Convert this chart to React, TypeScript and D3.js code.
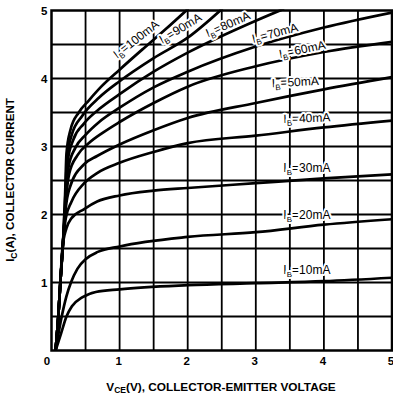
import React from 'react';
import * as d3 from 'd3';

const W = 393;
const H = 396;
const plot = { left: 51.5, right: 392, top: 10.5, bottom: 350.5 };

// axis ticks and grid
const vTicks = [1, 2, 3, 4, 5];
const iTicks = [1, 2, 3, 4, 5];
const vGrid = [0.5, 1, 1.5, 2, 2.5, 3, 3.5, 4, 4.5];
const iGrid = [0.5, 1, 1.5, 2, 2.5, 3, 3.5, 4, 4.5];

// Ic vs Vce, one list per base current
const ib10 = [[0.06, 0], [0.14, 0.25], [0.22, 0.5], [0.3, 0.65], [0.45, 0.78], [0.65, 0.86], [1, 0.9], [2, 0.96], [3, 0.99], [4, 1.02], [5, 1.07]];
const ib20 = [[0.06, 0], [0.15, 0.5], [0.22, 0.8], [0.29, 1.01], [0.38, 1.2], [0.51, 1.35], [0.68, 1.45], [1, 1.53], [2, 1.67], [3, 1.74], [4, 1.85], [5, 1.93]];
const ib30 = [[0.06, 0], [0.1, 0.5], [0.13, 1.0], [0.16, 1.5], [0.22, 1.8], [0.29, 1.94], [0.48, 2.08], [0.67, 2.19], [1, 2.28], [1.5, 2.35], [2, 2.39], [3, 2.46], [4, 2.53], [5, 2.59]];
const ib40 = [[0.06, 0], [0.1, 0.5], [0.13, 1], [0.17, 1.6], [0.21, 1.95], [0.29, 2.18], [0.48, 2.46], [0.67, 2.61], [1, 2.76], [1.5, 2.92], [2, 3.05], [3, 3.16], [4, 3.28], [5, 3.38]];
const ib50 = [[0.06, 0], [0.1, 0.5], [0.13, 1], [0.17, 1.6], [0.21, 2.1], [0.27, 2.4], [0.48, 2.74], [0.67, 2.86], [1, 3.03], [1.5, 3.24], [2, 3.42], [3, 3.64], [4, 3.84], [5, 4.02]];
const ib60 = [[0.06, 0], [0.1, 0.5], [0.13, 1], [0.17, 1.6], [0.21, 2.2], [0.26, 2.6], [0.38, 2.87], [0.55, 3.05], [0.75, 3.2], [1, 3.36], [1.5, 3.64], [2, 3.88], [3, 4.18], [4, 4.39], [5, 4.54]];
const ib70 = [[0.06, 0], [0.1, 0.5], [0.13, 1], [0.17, 1.6], [0.21, 2.2], [0.25, 2.7], [0.35, 2.98], [0.5, 3.17], [0.7, 3.36], [1, 3.57], [1.5, 3.87], [2, 4.1], [3, 4.47], [4, 4.75], [5, 4.97]];
const ib80 = [[0.06, 0], [0.1, 0.5], [0.13, 1], [0.17, 1.6], [0.21, 2.2], [0.24, 2.8], [0.32, 3.1], [0.47, 3.33], [0.7, 3.55], [1, 3.77], [1.5, 4.1], [2, 4.38], [3, 4.85], [3.4, 5.02]];
const ib90 = [[0.06, 0], [0.1, 0.5], [0.13, 1], [0.17, 1.6], [0.2, 2.2], [0.23, 2.85], [0.3, 3.18], [0.45, 3.45], [0.7, 3.72], [1, 3.96], [1.5, 4.3], [2, 4.6], [2.5, 5.02]];
const ib100 = [[0.06, 0], [0.1, 0.5], [0.13, 1], [0.17, 1.6], [0.2, 2.3], [0.22, 2.9], [0.28, 3.25], [0.4, 3.5], [0.55, 3.68], [0.73, 3.88], [1, 4.13], [1.36, 4.45], [1.67, 4.72], [2, 5.02]];

const curves = [ib10, ib20, ib30, ib40, ib50, ib60, ib70, ib80, ib90, ib100];
const ibNames = ['10mA', '20mA', '30mA', '40mA', '50mA', '60mA', '70mA', '80mA', '90mA', '100mA'];
// label anchor (V, A) and tilt
const labelV = [3.75, 3.75, 3.75, 3.75, 3.58, 3.68, 3.28, 2.59, 1.89, 1.24];
const labelI = [1.18, 1.99, 2.68, 3.42, 3.95, 4.43, 4.67, 4.8, 4.74, 4.58];
const labelTilt = [0, 0, 0, -2, -3, -12, -15, -24, -31, -38];

const x = d3.scaleLinear().domain([0, 5]).range([plot.left, plot.right]);
const y = d3.scaleLinear().domain([0, 5]).range([plot.bottom, plot.top]);

const line = d3.line<number[]>()
    .x((d) => x(d[0]))
    .y((d) => y(d[1]))
    .curve(d3.curveMonotoneX);

const font = '"Liberation Sans", Arial, Helvetica, sans-serif';

export default function App() {
    return (
        <div>
            <style>{'body{margin:0}'}</style>
            <svg width={W} height={H} style={{ display: 'block', background: '#fff' }} fontFamily={font}>
                <defs>
                    <clipPath id="plotclip">
                        <rect x={plot.left} y={plot.top - 1} width={plot.right - plot.left} height={plot.bottom - plot.top + 1} />
                    </clipPath>
                </defs>

                {/* grid */}
                <g stroke="#000" strokeWidth={1.8}>
                    {vGrid.map((v) => (
                        <line key={'v' + v} x1={x(v)} x2={x(v)} y1={plot.top} y2={plot.bottom} />
                    ))}
                    {iGrid.map((i) => (
                        <line key={'i' + i} x1={plot.left} x2={plot.right} y1={y(i)} y2={y(i)} />
                    ))}
                </g>
                <rect x={plot.left} y={plot.top} width={plot.right - plot.left} height={plot.bottom - plot.top}
                    fill="none" stroke="#000" strokeWidth={2.5} />

                {/* curves */}
                <g clipPath="url(#plotclip)" fill="none" stroke="#000" strokeWidth={2.7} strokeLinecap="round">
                    {curves.map((c, k) => (
                        <path key={k} d={line(c) || ''} />
                    ))}
                </g>

                {/* curve labels */}
                <g fontSize={12} fill="#000">
                    {ibNames.map((n, k) => (
                        <text key={n} textAnchor="middle" dy="0.35em"
                            transform={`translate(${x(labelV[k])},${y(labelI[k])}) rotate(${labelTilt[k]})`}
                            stroke="#fff" strokeWidth={4} paintOrder="stroke" strokeLinejoin="round">
                            I<tspan fontSize={8} dy={3}>B</tspan><tspan dy={-3}>={n}</tspan>
                        </text>
                    ))}
                </g>

                {/* tick labels */}
                <g fontSize={11.5} fontWeight="bold" fill="#000">
                    {iTicks.map((i) => (
                        <text key={'yt' + i} x={plot.left - 4} y={y(i)} dy="0.35em" textAnchor="end">{i}</text>
                    ))}
                    <text x={plot.left - 4.5} y={365} textAnchor="middle">0</text>
                    {vTicks.map((v) => (
                        <text key={'xt' + v} x={x(v) - 1} y={365} textAnchor="middle">{v}</text>
                    ))}
                </g>

                {/* axis titles */}
                <text transform="translate(14,180) rotate(-90)" textAnchor="middle" fontSize={11.6} fontWeight="bold">
                    I<tspan fontSize={8.5} dy={3}>C</tspan><tspan dy={-3}>(A), COLLECTOR CURRENT</tspan>
                </text>
                <text x={221} y={391} textAnchor="middle" fontSize={11.8} fontWeight="bold">
                    V<tspan fontSize={8.5} dy={2}>CE</tspan><tspan dy={-2}>(V), COLLECTOR-EMITTER VOLTAGE</tspan>
                </text>
            </svg>
        </div>
    );
}
